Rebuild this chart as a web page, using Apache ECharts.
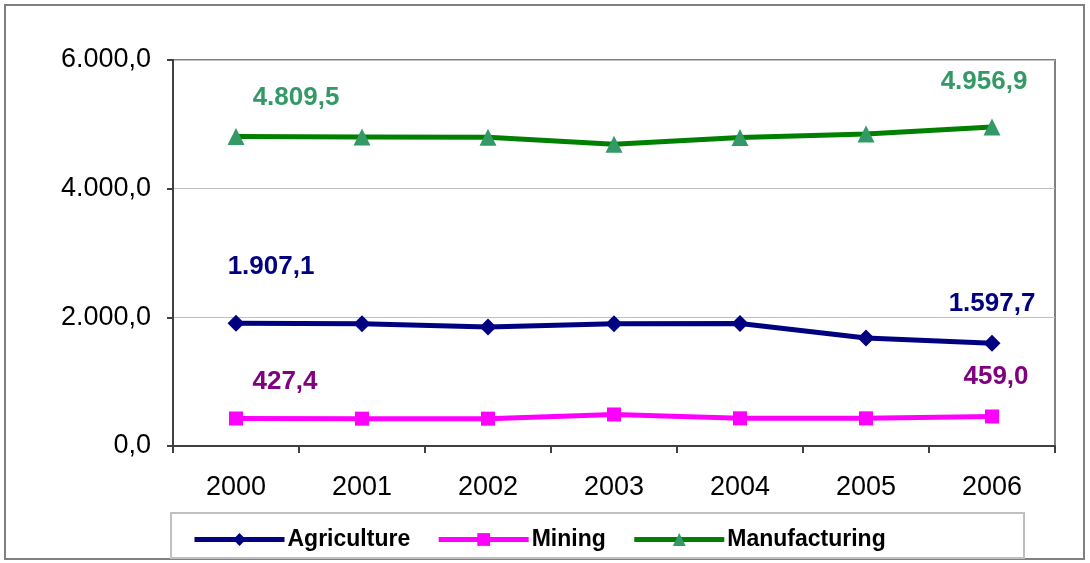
<!DOCTYPE html>
<html>
<head>
<meta charset="utf-8">
<script src="https://cdn.jsdelivr.net/npm/echarts@6/dist/echarts.min.js"></script>
<style>
  html, body { margin: 0; padding: 0; background: #fff; }
  #chart { width: 1090px; height: 563px; }
</style>
</head>
<body>
<div id="chart"></div>
<script>
// data
const years = ["2000", "2001", "2002", "2003", "2004", "2005", "2006"];
const agriculture = [1907.1, 1900, 1850, 1900, 1905, 1680, 1597.7];
const mining = [427.4, 425, 425, 490, 430, 430, 459.0];
const manufacturing = [4809.5, 4805, 4800, 4690, 4795, 4850, 4956.9];

// 1234.5 -> "1.234,5"
function fmt(v) {
  const parts = v.toFixed(1).split(".");
  return parts[0].replace(/\B(?=(\d{3})+(?!\d))/g, ".") + "," + parts[1];
}

// label only first and last point
function endLabels(values, color, first, last) {
  return values.map((v, i) => {
    if (i === 0 || i === values.length - 1) {
      const off = i === 0 ? first : last;
      return {
        value: v,
        label: {
          show: true,
          position: "top",
          offset: off,
          formatter: (p) => fmt(p.value),
          color: color,
          fontSize: 26,
          fontWeight: "bold",
          fontFamily: "Liberation Sans, Arial, sans-serif"
        }
      };
    }
    return v;
  });
}

const chart = echarts.init(document.getElementById("chart"));
const option = {
  animation: false,
  textStyle: { fontFamily: "Liberation Sans, Arial, sans-serif" },
  graphic: [
    {
      type: "rect",
      shape: { x: 5, y: 5, width: 1079, height: 554 },
      style: { fill: "none", stroke: "#808080", lineWidth: 2 },
      z: -1
    },
    {
      type: "rect",
      shape: { x: 171, y: 513, width: 853, height: 45 },
      style: { fill: "#fff", stroke: "#c0c0c0", lineWidth: 2 },
      z: -1
    }
  ],
  grid: {
    left: 173,
    right: 35,
    top: 60,
    bottom: 117,
    show: true,
    borderColor: "#808080",
    borderWidth: 2,
    containLabel: false
  },
  legend: {
    left: 187,
    top: 523,
    itemWidth: 90,
    itemHeight: 16,
    itemGap: 26,
    lineStyle: { width: 5 },
    textStyle: {
      fontSize: 23,
      fontWeight: "bold",
      color: "#000",
      padding: [0, 0, 0, -2]
    },
    data: ["Agriculture", "Mining", "Manufacturing"]
  },
  xAxis: {
    type: "category",
    data: years,
    boundaryGap: true,
    axisLine: { lineStyle: { color: "#404040", width: 2 } },
    axisTick: { show: true, length: 7, lineStyle: { color: "#404040", width: 2 } },
    axisLabel: { color: "#000", fontSize: 27, margin: 28 }
  },
  yAxis: {
    type: "value",
    min: 0,
    max: 6000,
    interval: 2000,
    axisLine: { show: true, lineStyle: { color: "#404040", width: 2 } },
    axisTick: { show: true, length: 6, lineStyle: { color: "#404040", width: 2 } },
    axisLabel: { color: "#000", fontSize: 27, margin: 22, formatter: (v) => fmt(v) },
    splitLine: { show: true, lineStyle: { color: "#c0c0c0", width: 1 } }
  },
  series: [
    {
      name: "Agriculture",
      type: "line",
      data: endLabels(agriculture, "#000080", [35, -30], [0, -13]),
      symbol: "diamond",
      symbolSize: 17,
      lineStyle: { color: "#000080", width: 5 },
      itemStyle: { color: "#000080" }
    },
    {
      name: "Mining",
      type: "line",
      data: endLabels(mining, "#800080", [49, -12], [4, -15]),
      symbol: "rect",
      symbolSize: 14,
      lineStyle: { color: "#ff00ff", width: 5 },
      itemStyle: { color: "#ff00ff" }
    },
    {
      name: "Manufacturing",
      type: "line",
      data: endLabels(manufacturing, "#339966", [60, -12], [-8, -19]),
      symbol: "triangle",
      symbolSize: 17,
      lineStyle: { color: "#008000", width: 5 },
      itemStyle: { color: "#339966" }
    }
  ]
};
chart.setOption(option);
</script>
</body>
</html>
